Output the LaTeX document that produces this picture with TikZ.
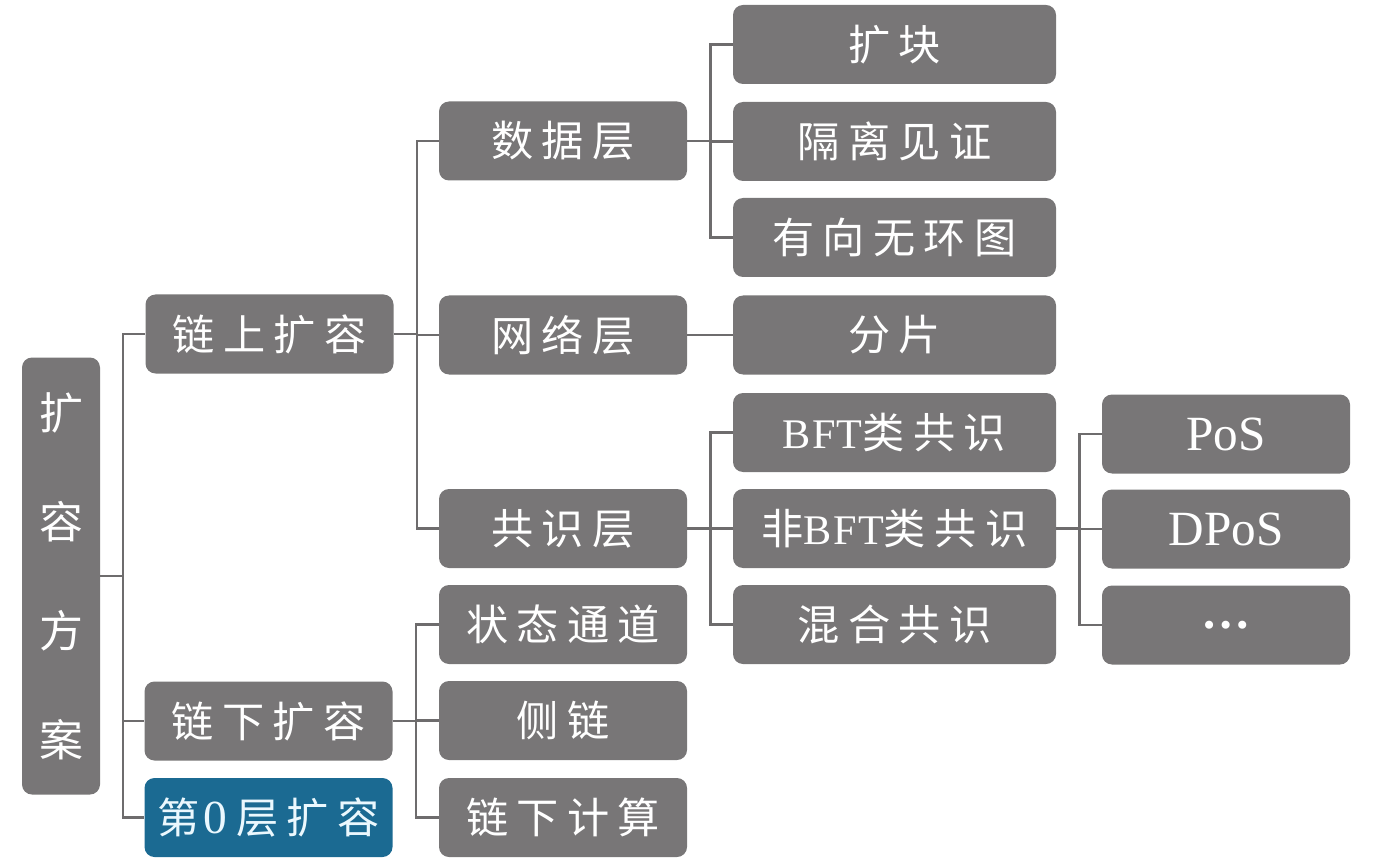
\documentclass[tikz,border=0pt]{standalone}
\usepackage{fontspec}
\usepackage{tikz}
\newfontfamily\cjk[LetterSpace=20]{Noto Sans CJK SC}
\newfontfamily\latfont{Liberation Serif}
\newcommand{\lat}[1]{{\latfont\addfontfeature{LetterSpace=3}#1}}
\definecolor{boxgray}{HTML}{787677}
\definecolor{linegray}{HTML}{6E6C6D}
\definecolor{boxblue}{HTML}{1B6A92}

\begin{document}
\begin{tikzpicture}[
  box/.style={rectangle,rounded corners=0.2cm,fill=boxgray,text=white,
    inner sep=0pt,minimum height=1.58cm,font=\cjk\fontsize{24}{28}\selectfont},
  mid box/.style={box,minimum width=4.96cm},
  wide box/.style={box,minimum width=6.46cm},
  big latin/.style={font=\latfont\fontsize{28}{32}\selectfont},
  link/.style={draw=linegray,line width=1.3pt}]
\useasboundingbox (0,0) rectangle (27.6,-17.24);
% root
\node[box,minimum width=1.56cm,minimum height=8.74cm,align=center,
  font=\cjk\fontsize{25}{62}\selectfont] (root) at (1.22,-11.52) {扩\\容\\方\\案};
% first level
\node[mid box] (onchain) at (5.39,-6.68) {链上扩容};
\node[mid box] (offchain) at (5.37,-14.42) {链下扩容};
\node[mid box,fill=boxblue,text=cyan!8] (layer0) at (5.37,-16.35)
  {第\hspace{0.1em}{\latfont\fontsize{27}{30}\selectfont 0}\hspace{0.2em}层扩容};
% second level
\node[mid box] (data) at (11.26,-2.82) {数据层};
\node[mid box] (net) at (11.26,-6.70) {网络层};
\node[mid box] (cons) at (11.26,-10.57) {共识层};
\node[mid box] (state) at (11.26,-12.49) {状态通道};
\node[mid box] (side) at (11.26,-14.41) {侧链};
\node[mid box] (comp) at (11.26,-16.35) {链下计算};
% third level
\node[wide box] (block) at (17.89,-0.89) {扩块};
\node[wide box] (segwit) at (17.89,-2.83) {隔离见证};
\node[wide box] (dag) at (17.89,-4.75) {有向无环图};
\node[wide box] (shard) at (17.89,-6.70) {分片};
\node[wide box] (bft) at (17.89,-8.65) {\lat{BFT}类共识};
\node[wide box] (nbft) at (17.89,-10.57) {非\lat{BFT}类共识};
\node[wide box] (hybrid) at (17.89,-12.49) {混合共识};
% fourth level
\node[mid box,big latin] (pos) at (24.52,-8.68) {PoS};
\node[mid box,big latin] (dpos) at (24.52,-10.58) {DPoS};
\node[mid box,big latin] (more) at (24.52,-12.50) {\textbf{…}};
% connectors
\foreach \p/\c in {root/onchain,root/offchain,root/layer0,
    onchain/data,onchain/net,onchain/cons,
    offchain/state,offchain/side,offchain/comp,
    data/block,data/segwit,data/dag,net/shard,
    cons/bft,cons/nbft,cons/hybrid,
    nbft/pos,nbft/dpos,nbft/more}
  \draw[link] (\p.east) -- ++(0.46,0) |- (\c.west);
\end{tikzpicture}
\end{document}
